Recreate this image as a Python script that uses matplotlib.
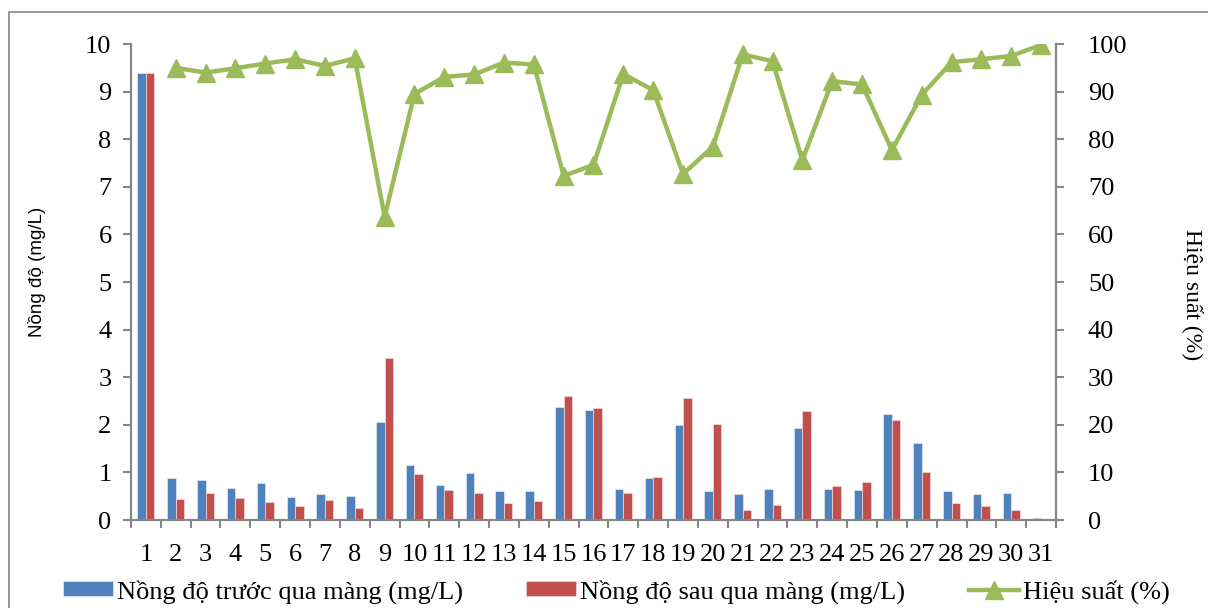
import numpy as np
import matplotlib.pyplot as plt
from matplotlib.patches import Rectangle

days = list(range(1, 32))
truoc = [9.40, 0.88, 0.84, 0.67, 0.78, 0.48, 0.54, 0.50, 2.06, 1.16,
         0.74, 0.99, 0.62, 0.62, 2.37, 2.31, 0.65, 0.88, 2.00, 0.60,
         0.54, 0.65, 1.94, 0.65, 0.64, 2.22, 1.62, 0.62, 0.55, 0.57, 0.04]
sau = [9.40, 0.45, 0.57, 0.47, 0.38, 0.29, 0.43, 0.26, 3.40, 0.97,
       0.63, 0.57, 0.36, 0.39, 2.60, 2.35, 0.57, 0.90, 2.56, 2.02,
       0.22, 0.31, 2.28, 0.71, 0.79, 2.10, 1.00, 0.35, 0.29, 0.22, 0.01]
hieu_suat = [np.nan, 95.0, 94.0, 94.9, 95.9, 96.8, 95.4, 97.0, 63.7, 89.5,
             93.1, 93.6, 96.1, 95.7, 72.3, 74.6, 93.7, 90.3, 72.7, 78.4,
             97.8, 96.4, 75.6, 92.2, 91.5, 77.7, 89.3, 96.2, 96.8, 97.5, 99.8]

serif = 'Liberation Serif'
grey = '#868686'

fig = plt.figure(figsize=(12.08, 6.08), dpi=100)
ax = fig.add_axes([0.1084, 0.1447, 0.7658, 0.7829])
ax2 = ax.twinx()

x = np.array(days)
w = 0.285
b1 = ax.bar(x - w / 2, truoc, w, color='#4F81BD', edgecolor='#D6E2F0', linewidth=0.6,
            label='Nồng độ trước qua màng (mg/L)')
b2 = ax.bar(x + w / 2, sau, w, color='#C0504D', edgecolor='#F0D0CF', linewidth=0.6,
            label='Nồng độ sau qua màng (mg/L)')
l1, = ax2.plot(x, hieu_suat, color='#9BBB59', lw=3.2, marker='^', markersize=12.5,
               label='Hiệu suất (%)')

ax.set_xlim(0.5, 31.5)
ax.set_ylim(0, 10)
ax2.set_ylim(0, 100)
ax.set_yticks(range(0, 11))
ax2.set_yticks(range(0, 101, 10))
ax.set_xticks(days)
ax.set_xticks(np.arange(0.5, 32, 1), minor=True)
ax.tick_params(axis='x', which='major', length=0, pad=17,
               labelsize=19, labelfontfamily=serif)
ax.tick_params(axis='x', which='minor', length=6, width=1.5, color=grey)
ax.tick_params(axis='y', length=6, width=1.5, color=grey, pad=8,
               labelsize=19, labelfontfamily=serif)
ax2.tick_params(axis='y', length=6, width=1.5, color=grey, pad=17,
                labelsize=19, labelfontfamily=serif)

for a in (ax, ax2):
    a.spines['top'].set_visible(False)
    for s in ('left', 'right', 'bottom'):
        a.spines[s].set_color(grey)
        a.spines[s].set_linewidth(1.5)

ax.set_ylabel('Nồng độ (mg/L)', fontsize=13.5, fontfamily='Liberation Sans', va='center')
ax.yaxis.set_label_coords(-0.1016, 0.521)
ax2.set_ylabel('Hiệu suất (%)', fontsize=17, fontfamily=serif, rotation=270, va='center')
ax2.yaxis.set_label_coords(1.148, 0.473)

fig.legend([b1, b2, l1], [b1.get_label(), b2.get_label(), l1.get_label()],
           loc='center', bbox_to_anchor=(0.51, 0.027), ncol=3, frameon=False,
           prop={'family': serif, 'size': 19}, handlelength=1.9, handleheight=0.5,
           handletextpad=0.15, columnspacing=2.4)

# thin grey frame round the whole chart
fig.patches.append(Rectangle((9 / 1208, -0.1), 1.2, 1 - 12 / 608 + 0.1,
                             transform=fig.transFigure, fill=False,
                             edgecolor=grey, linewidth=1.2))

fig.savefig('out.png', dpi=100)
